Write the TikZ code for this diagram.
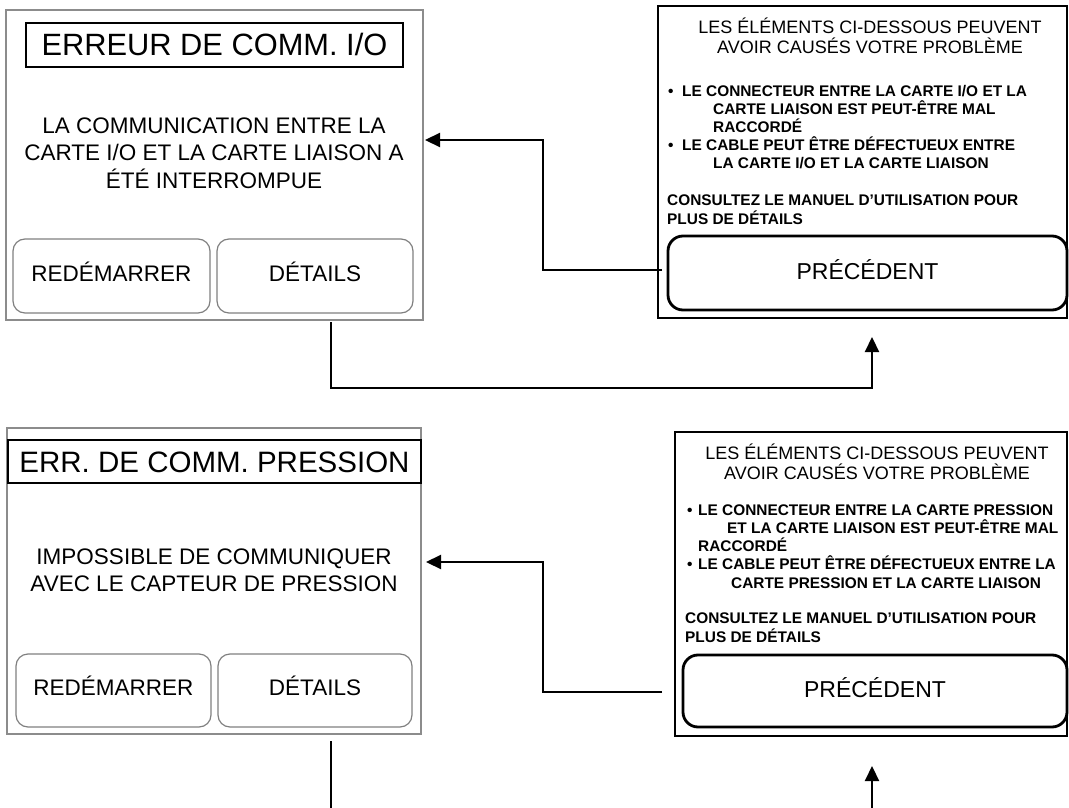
\documentclass[tikz,border=0pt]{standalone}
\usepackage{fontspec}
\setmainfont{Liberation Sans}
\usetikzlibrary{arrows.meta}

\tikzset{
  screen/.style={draw=gray!90, line width=1.3pt, inner sep=0pt},
  popup/.style={draw=black, line width=2.8pt, inner sep=0pt},
  titlebox/.style={draw=black, line width=1.8pt, inner sep=0pt,
    text height=21pt, text depth=0pt, font=\fontsize{29.5}{34}\selectfont},
  key/.style={draw=gray, line width=1.2pt, rounded corners=12pt, inner sep=0pt,
    text height=16pt, text depth=6pt, font=\fontsize{22.5}{27}\selectfont},
  backkey/.style={draw=black, line width=2.8pt, rounded corners=15pt, inner sep=0pt,
    text height=16.5pt, text depth=4pt, font=\fontsize{23}{27}\selectfont},
  msg/.style={align=center, inner sep=0pt, font=\fontsize{22.5}{27.5}\selectfont},
  head/.style={align=center, inner sep=0pt, anchor=south, font=\fontsize{18}{20}\selectfont},
  hint/.style={align=left, inner sep=0pt, anchor=south west,
    font=\bfseries\fontsize{15.4}{18.2}\selectfont},
  conn/.style={line width=2.2pt, -{Triangle[length=15pt,width=14pt]}},
}

\begin{document}
\begin{tikzpicture}[x=1pt, y=-1pt]
  \useasboundingbox (0,0) rectangle (1069,808);

  % I/O error screen
  \node[screen, minimum width=417pt, minimum height=310pt] (scrA) at (214.5,165) {};
  \node[titlebox, minimum width=377pt, minimum height=44pt,
    font=\fontsize{30.8}{34}\selectfont] (titleA) at (214.5,45) {ERREUR DE COMM. I/O};
  \node[msg] (msgA) at (214,153) {LA COMMUNICATION ENTRE LA\\CARTE I/O ET LA CARTE LIAISON A\\ÉTÉ INTERROMPUE};
  \node[key, minimum width=197pt, minimum height=74pt] (restartA) at (111.5,276) {REDÉMARRER};
  \node[key, minimum width=196pt, minimum height=74pt] (detailA) at (315,276) {DÉTAILS};

  % I/O details screen
  \node[popup, minimum width=409pt, minimum height=312pt] (scrC) at (862.5,162) {};
  \node[head] (headC) at (870,53.4) {LES ÉLÉMENTS CI-DESSOUS PEUVENT\\AVOIR CAUSÉS VOTRE PROBLÈME};
  \node[hint] (tipsC) at (668,169.5) {\makebox[14pt][l]{•}LE CONNECTEUR ENTRE LA CARTE I/O ET LA\\
    \hspace*{45pt}CARTE LIAISON EST PEUT-ÊTRE MAL\\
    \hspace*{45pt}RACCORDÉ\\
    \makebox[14pt][l]{•}LE CABLE PEUT ÊTRE DÉFECTUEUX ENTRE\\
    \hspace*{45pt}LA CARTE I/O ET LA CARTE LIAISON};
  \node[hint] (manualC) at (667,224.5) {CONSULTEZ LE MANUEL D’UTILISATION POUR\\PLUS DE DÉTAILS};
  \node[backkey, minimum width=399pt, minimum height=74pt] (backC) at (867.5,273) {PRÉCÉDENT};

  % pressure error screen
  \node[screen, minimum width=414pt, minimum height=306pt] (scrB) at (214,581) {};
  \node[titlebox, minimum width=413pt, minimum height=43pt] (titleB) at (214.5,461.5) {ERR. DE COMM. PRESSION};
  \node[msg] (msgB) at (214,570) {IMPOSSIBLE DE COMMUNIQUER\\AVEC LE CAPTEUR DE PRESSION};
  \node[key, minimum width=195pt, minimum height=73pt] (restartB) at (113.5,690.5) {REDÉMARRER};
  \node[key, minimum width=194pt, minimum height=73pt] (detailB) at (315,690.5) {DÉTAILS};

  % pressure details screen
  \node[popup, minimum width=392pt, minimum height=304pt] (scrD) at (871,584) {};
  \node[head] (headD) at (877,479.5) {LES ÉLÉMENTS CI-DESSOUS PEUVENT\\AVOIR CAUSÉS VOTRE PROBLÈME};
  \node[hint] (tipsD) at (687,588.5) {\makebox[11pt][l]{•}LE CONNECTEUR ENTRE LA CARTE PRESSION\\
    \hspace*{40pt}ET LA CARTE LIAISON EST PEUT-ÊTRE MAL\\
    \hspace*{11pt}RACCORDÉ\\
    \makebox[11pt][l]{•}LE CABLE PEUT ÊTRE DÉFECTUEUX ENTRE LA\\
    \hspace*{44pt}CARTE PRESSION ET LA CARTE LIAISON};
  \node[hint] (manualD) at (685,642.5) {CONSULTEZ LE MANUEL D’UTILISATION POUR\\PLUS DE DÉTAILS};
  \node[backkey, minimum width=384pt, minimum height=72pt] (backD) at (875,691) {PRÉCÉDENT};

  % connector ends
  \coordinate (outA) at (662,270);
  \coordinate (inA) at (425,140);
  \coordinate (dropA) at (331,322);
  \coordinate (riseA) at (872,337);
  \coordinate (outB) at (662,692);
  \coordinate (inB) at (426,562);
  \coordinate (dropB) at (331,741);
  \coordinate (cutB) at (331,810);
  \coordinate (feedB) at (872,810);
  \coordinate (riseB) at (872,766);

  \draw[conn] (outA) -- ++(-119,0) |- (inA);
  \draw[conn] (dropA) -- ++(0,66) -| (riseA);
  \draw[conn] (outB) -- ++(-119,0) |- (inB);
  \draw[line width=2.2pt] (dropB) -- (cutB);
  \draw[conn] (feedB) -- (riseB);
\end{tikzpicture}
\end{document}
